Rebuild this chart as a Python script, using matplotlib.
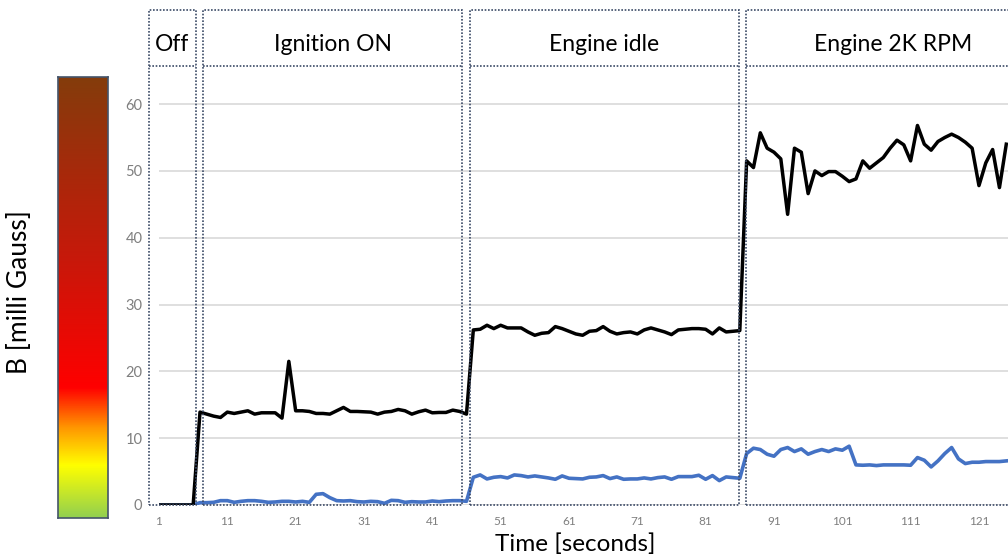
import numpy as np
import matplotlib
import matplotlib.pyplot as plt
from matplotlib.colors import LinearSegmentedColormap
from matplotlib.patches import Rectangle
import matplotlib.transforms as mtransforms
matplotlib.use('agg')

plt.rcParams['font.family'] = ['Lato', 'DejaVu Sans']

# sample index (seconds)
time_s = np.arange(1, 126)

# black trace
b_black = [
    0, 0, 0, 0, 0, 0,
    13.9, 13.6, 13.3, 13.1, 13.9, 13.7, 13.9, 14.1, 13.6, 13.8,
    13.8, 13.8, 13.0, 21.5, 14.1, 14.1, 14.0, 13.7, 13.7, 13.6,
    14.1, 14.6, 14.0, 14.0, 13.95, 13.9, 13.6, 13.9, 14.0, 14.3,
    14.1, 13.6, 13.95, 14.2, 13.8, 13.85, 13.85, 14.2, 14.0, 13.6,
    26.2, 26.3, 26.9, 26.4, 26.9, 26.5, 26.5, 26.5, 25.9, 25.4,
    25.7, 25.8, 26.7, 26.4, 26.0, 25.6, 25.4, 26.0, 26.1, 26.7,
    26.0, 25.6, 25.8, 25.9, 25.6, 26.2, 26.5, 26.2, 25.9, 25.5,
    26.2, 26.3, 26.4, 26.4, 26.3, 25.6, 26.5, 25.9, 26.0, 26.1,
    51.5, 50.5, 55.7, 53.4, 52.8, 51.8, 43.5, 53.4, 52.8, 46.6,
    50.0, 49.3, 49.9, 49.9, 49.2, 48.4, 48.8, 51.5, 50.4, 51.2,
    52.0, 53.4, 54.6, 53.9, 51.5, 56.8, 54.0, 53.1, 54.4, 55.0,
    55.5, 55.0, 54.3, 53.4, 47.8, 51.2, 53.2, 47.5, 54.0,
]

# blue trace
b_blue = [
    0, 0, 0, 0, 0, 0,
    0.35, 0.35, 0.4, 0.65, 0.65, 0.4, 0.55, 0.65, 0.65, 0.55,
    0.4, 0.45, 0.55, 0.55, 0.45, 0.55, 0.4, 1.6, 1.7, 1.1,
    0.65, 0.6, 0.65, 0.5, 0.45, 0.55, 0.5, 0.25, 0.7, 0.65,
    0.4, 0.5, 0.45, 0.45, 0.6, 0.5, 0.6, 0.65, 0.65, 0.55,
    4.15, 4.5, 3.9, 4.15, 4.25, 4.05, 4.5, 4.4, 4.2, 4.35,
    4.2, 4.05, 3.85, 4.35, 4.0, 3.95, 3.9, 4.15, 4.2, 4.4,
    3.95, 4.2, 3.85, 3.9, 3.9, 4.05, 3.9, 4.1, 4.2, 3.85,
    4.25, 4.25, 4.25, 4.45, 3.85, 4.4, 3.65, 4.2, 4.1, 4.0,
    7.7, 8.5, 8.3, 7.6, 7.3, 8.3, 8.6, 8.0, 8.4, 7.6,
    8.0, 8.3, 8.0, 8.4, 8.2, 8.8, 6.0, 5.95, 6.0, 5.9,
    6.0, 6.0, 6.0, 6.0, 5.95, 7.1, 6.7, 5.7, 6.6, 7.7,
    8.6, 6.9, 6.2, 6.4, 6.4, 6.5, 6.5, 6.5, 6.6,
]

phase_names = ['Off', 'Ignition ON', 'Engine idle', 'Engine 2K RPM']
phase_start = [-0.46, 7.44, 46.5, 86.9]
phase_end = [6.42, 45.4, 85.9, 130.0]

x_ticks = list(range(1, 126, 10))
y_ticks = [0, 10, 20, 30, 40, 50, 60]

fig = plt.figure(figsize=(10.08, 5.58), dpi=100)
ax = fig.add_axes([159 / 1008, 53 / 558, 849 / 1008, 439 / 558])

ax.plot(time_s, b_blue, color='#4472C4', lw=2.6, solid_joinstyle='round', zorder=3)
ax.plot(time_s, b_black, color='black', lw=2.5, solid_joinstyle='round', zorder=4)

ax.set_xlim(1, 125.25)
ax.set_ylim(0, 65.7)
ax.set_xticks(x_ticks)
ax.set_yticks(y_ticks)
ax.tick_params(axis='both', length=0, colors='#7f7f7f')
ax.tick_params(axis='x', labelsize=8.5, pad=8)
ax.tick_params(axis='y', labelsize=10.5, pad=12)
ax.grid(axis='y', color='#d9d9d9', lw=1.2)
ax.set_axisbelow(True)
for s in ax.spines.values():
    s.set_visible(False)

ax.set_xlabel('Time [seconds]', fontsize=17.5, labelpad=3)
ax.xaxis.set_label_coords(0.49, -0.065)

# phase boxes above / across the plot
trans = mtransforms.blended_transform_factory(ax.transData, ax.transAxes)
box_top = (505 - 10) / 439
for name, x0, x1 in zip(phase_names, phase_start, phase_end):
    ax.add_patch(Rectangle((x0, 0), x1 - x0, box_top, transform=trans, fill=False,
                           ec='#3b4a66', lw=1.2, ls=(0, (1, 1)), clip_on=False, zorder=5))
    ax.plot([x0, x1], [1, 1], transform=trans, color='#3b4a66', lw=1.2, ls=(0, (1, 1)),
            clip_on=False, zorder=5)
    ax.text((x0 + x1) / 2, 1.05, name, transform=trans, ha='center', va='center',
            fontsize=16.5, clip_on=False)

# colour scale bar on the left
cmap = LinearSegmentedColormap.from_list('bscale', [
    (0.0, '#92D050'), (0.118, '#FFFF00'), (0.205, '#FF9500'), (0.295, '#FF0000'),
    (0.584, '#C8180A'), (1.0, '#843C0C')])
cax = fig.add_axes([58 / 1008, 40 / 558, 50 / 1008, 441 / 558])
grad = np.linspace(0, 1, 256).reshape(-1, 1)
cax.imshow(grad, aspect='auto', cmap=cmap, origin='lower')
cax.set_xticks([])
cax.set_yticks([])
for s in cax.spines.values():
    s.set_color('#44546A')
    s.set_linewidth(1.2)

fig.text(20 / 1008, 1 - 292 / 558, 'B [milli Gauss]', rotation=90, ha='center', va='center',
         fontsize=19)

fig.savefig('out.png', dpi=100)
